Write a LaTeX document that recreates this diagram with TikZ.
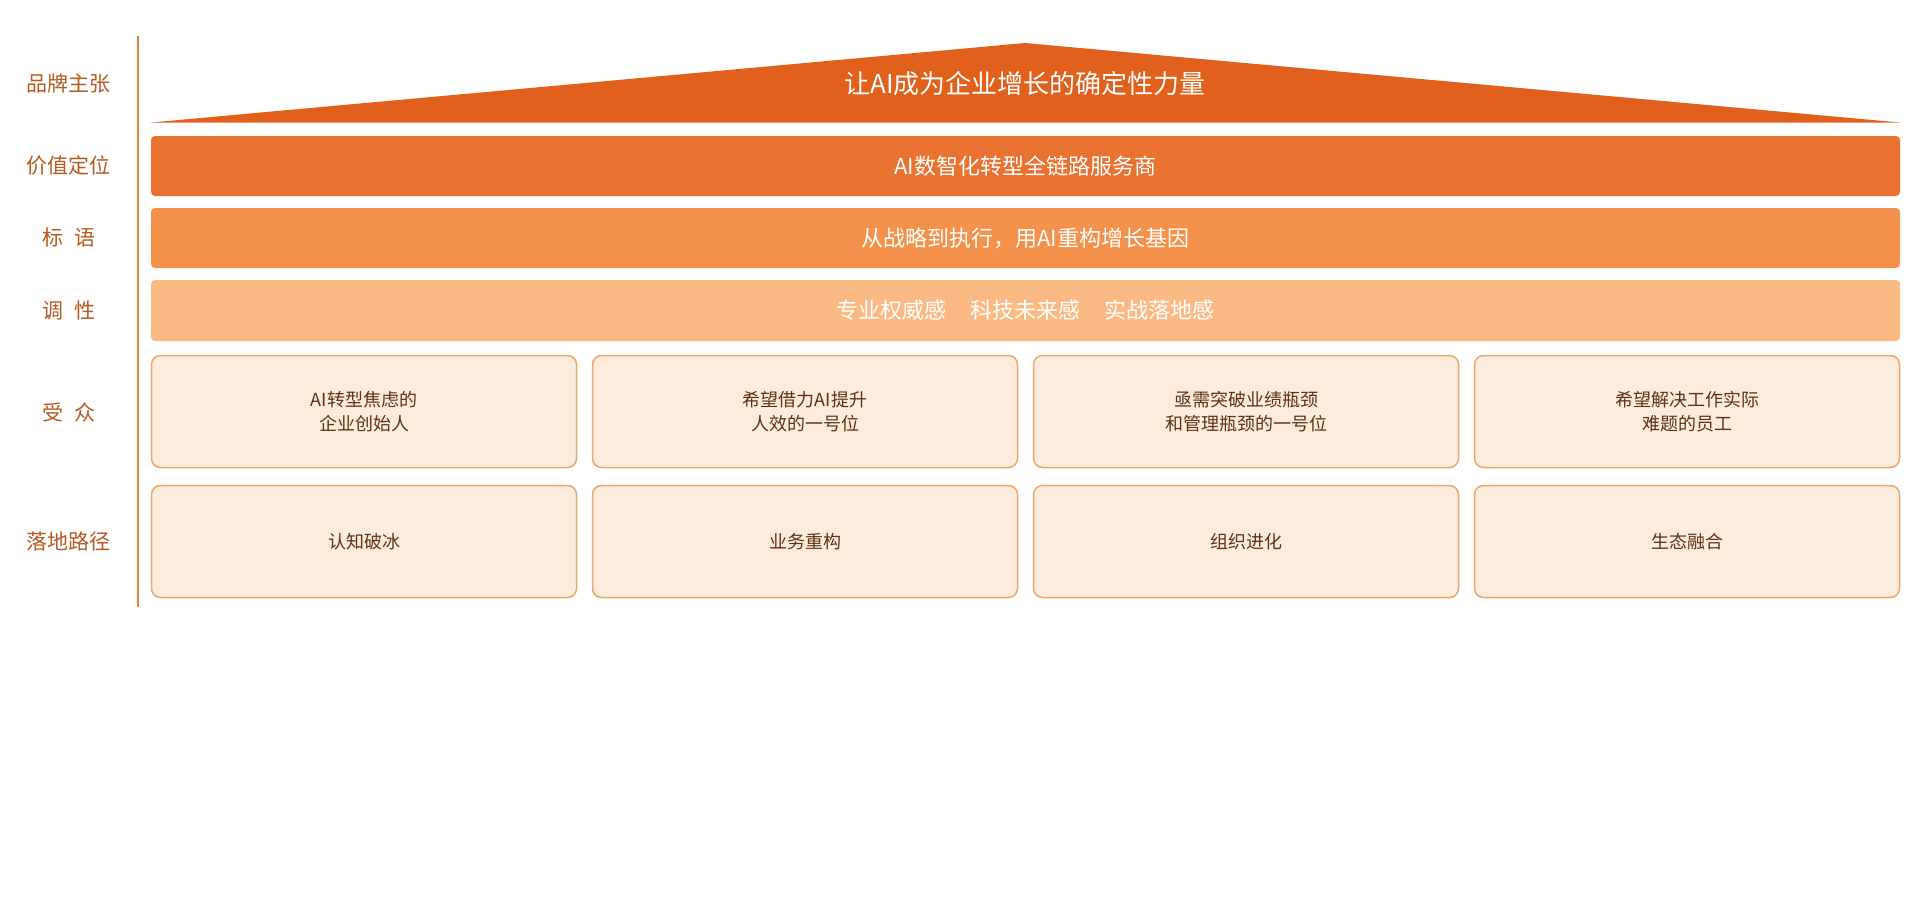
\documentclass[tikz,border=0pt]{standalone}
\usepackage{fontspec}
\setmainfont{Noto Sans CJK SC}
\definecolor{roofc}{HTML}{E0601C}
\definecolor{barA}{HTML}{EA7230}
\definecolor{barB}{HTML}{F4924C}
\definecolor{barC}{HTML}{FBBA84}
\definecolor{cardfill}{HTML}{FDEBDB}
\definecolor{cardline}{HTML}{EBA86E}
\definecolor{labc}{HTML}{B55A22}
\definecolor{cardtext}{HTML}{5A3415}
\definecolor{axisc}{HTML}{E8803F}
\begin{document}
\begin{tikzpicture}[x=1pt,y=-1pt,
  lab/.style={text=labc, font=\fontsize{21}{25}\selectfont, inner sep=0pt},
  bar/.style={rounded corners=4pt, minimum width=1749pt, minimum height=60pt, inner sep=0pt, text=white, font=\fontsize{22}{26}\selectfont},
  card/.style={draw=cardline, line width=1.5pt, fill=cardfill, rounded corners=9pt, minimum width=425pt, minimum height=112pt, inner sep=0pt, align=center, text=cardtext, font=\fontsize{18}{24}\selectfont},
  axisline/.style={draw=axisc, line width=2.5pt}]
\fill[white] (0,0) rectangle (1920,900);
\useasboundingbox (0,0) rectangle (1920,900);
% axis
\coordinate (ltop) at (138,36);
\coordinate (lbot) at (138,607);
\draw[axisline] (ltop) -- (lbot);
% roof
\coordinate (rl) at (151,122.5);
\coordinate (ra) at (1025,43);
\coordinate (rr) at (1900,122.5);
\fill[roofc] (rl) -- (ra) -- (rr) -- cycle;
\node[text=white, font=\fontsize{26}{30}\selectfont, inner sep=0pt] (title) at (1025,84) {让AI成为企业增长的确定性力量};
% bars
\node[bar, fill=barA] (pos) at (1025.5,166) {AI数智化转型全链路服务商};
\node[bar, fill=barB] (slogan) at (1025.5,238) {从战略到执行，用AI重构增长基因};
\node[bar, fill=barC, minimum height=61pt] (tone) at (1025.5,310.5) {专业权威感\hspace{1.1em}科技未来感\hspace{1.1em}实战落地感};
% labels
\node[lab] (l1) at (69,84) {品牌主张};
\node[lab] (l2) at (69,166) {价值定位};
\node[lab] (l3) at (69,238) {标\hspace{0.55em}语};
\node[lab] (l4) at (69,310.5) {调\hspace{0.55em}性};
\node[lab] (l5) at (69,412) {受\hspace{0.55em}众};
\node[lab] (l6) at (69,542) {落地路径};
% audience cards
\node[card] (a1) at (364,411.5) {AI转型焦虑的\\企业创始人};
\node[card] (a2) at (805,411.5) {希望借力AI提升\\人效的一号位};
\node[card] (a3) at (1246,411.5) {亟需突破业绩瓶颈\\和管理瓶颈的一号位};
\node[card] (a4) at (1687,411.5) {希望解决工作实际\\难题的员工};
% path cards
\node[card] (p1) at (364,541.5) {认知破冰};
\node[card] (p2) at (805,541.5) {业务重构};
\node[card] (p3) at (1246,541.5) {组织进化};
\node[card] (p4) at (1687,541.5) {生态融合};
\end{tikzpicture}
\end{document}
